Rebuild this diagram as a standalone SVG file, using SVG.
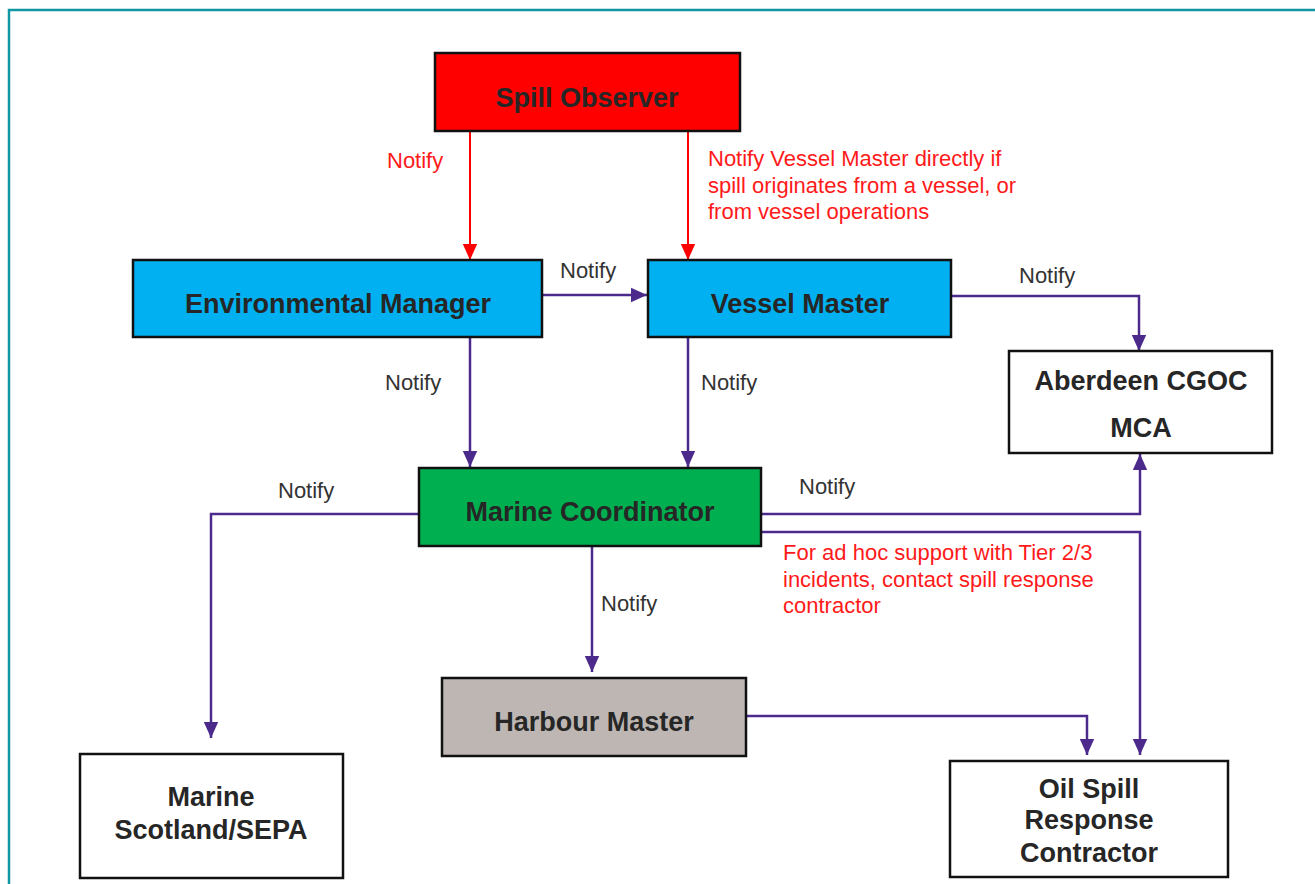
<svg xmlns="http://www.w3.org/2000/svg" width="1315" height="884" viewBox="0 0 1315 884">
<defs>
<marker id="ap" viewBox="0 0 10 10" refX="10" refY="5" markerWidth="16" markerHeight="16" markerUnits="userSpaceOnUse" orient="auto">
<path d="M0,0.5 L10,5 L0,9.5 Z" fill="#4b2a8c"/>
</marker>
<marker id="ar" viewBox="0 0 10 10" refX="10" refY="5" markerWidth="16" markerHeight="16" markerUnits="userSpaceOnUse" orient="auto">
<path d="M0,0.5 L10,5 L0,9.5 Z" fill="#ff0000"/>
</marker>
<style>
.box{stroke:#111;stroke-width:2.5}
.nt{font-family:"Liberation Sans",Arial,sans-serif;font-weight:bold;font-size:27px;fill:#262626;text-anchor:middle}
.lbl{font-family:"Liberation Sans",Arial,sans-serif;font-size:22px;fill:#333}
.red{font-family:"Liberation Sans",Arial,sans-serif;font-size:22px;fill:#ff1a1a}
.cp{fill:none;stroke:#4b2a8c;stroke-width:2.5;marker-end:url(#ap)}
.cr{fill:none;stroke:#ff0000;stroke-width:2;marker-end:url(#ar)}
</style>
</defs>
<rect width="1315" height="884" fill="#fff"/>
<path d="M9,884 V10 H1315" fill="none" stroke="#1196a4" stroke-width="2.5"/>

<g id="connectors">
<path class="cr" d="M470,131 V260"/>
<path class="cr" d="M688,131 V260"/>
<path class="cp" d="M542,295 H647"/>
<path class="cp" d="M951,296 H1139 V351"/>
<path class="cp" d="M470,337 V467"/>
<path class="cp" d="M688,337 V467"/>
<path class="cp" d="M419,514 H211 V738"/>
<path class="cp" d="M761,514 H1140 V454"/>
<path class="cp" d="M761,532 H1140 V755"/>
<path class="cp" d="M592,546 V672"/>
<path class="cp" d="M745,716 H1087 V755"/>
</g>

<g id="labels">
<text class="red" x="387" y="168">Notify</text>
<text class="red" x="708" y="166">Notify Vessel Master directly if</text>
<text class="red" x="708" y="193">spill originates from a vessel, or</text>
<text class="red" x="708" y="219">from vessel operations</text>
<text class="lbl" x="560" y="278">Notify</text>
<text class="lbl" x="1019" y="283">Notify</text>
<text class="lbl" x="385" y="390">Notify</text>
<text class="lbl" x="701" y="390">Notify</text>
<text class="lbl" x="278" y="498">Notify</text>
<text class="lbl" x="799" y="494">Notify</text>
<text class="lbl" x="601" y="611">Notify</text>
<text class="red" x="783" y="560">For ad hoc support with Tier 2/3</text>
<text class="red" x="783" y="587">incidents, contact spill response</text>
<text class="red" x="783" y="613">contractor</text>
</g>

<g id="spill-observer">
<rect class="box" x="435" y="53" width="305" height="78" fill="#ff0000"/>
<text class="nt" x="587" y="107">Spill Observer</text>
</g>
<g id="environmental-manager">
<rect class="box" x="133" y="260" width="409" height="77" fill="#00b0f0"/>
<text class="nt" x="338" y="313">Environmental Manager</text>
</g>
<g id="vessel-master">
<rect class="box" x="648" y="260" width="303" height="77" fill="#00b0f0"/>
<text class="nt" x="800" y="313">Vessel Master</text>
</g>
<g id="aberdeen-cgoc">
<rect class="box" x="1009" y="351" width="263" height="102" fill="#fff"/>
<text class="nt" x="1141" y="390">Aberdeen CGOC</text>
<text class="nt" x="1141" y="437">MCA</text>
</g>
<g id="marine-coordinator">
<rect class="box" x="419" y="468" width="342" height="78" fill="#00b050"/>
<text class="nt" x="590" y="521">Marine Coordinator</text>
</g>
<g id="harbour-master">
<rect class="box" x="442" y="678" width="304" height="78" fill="#bdb6b3"/>
<text class="nt" x="594" y="731">Harbour Master</text>
</g>
<g id="marine-scotland">
<rect class="box" x="80" y="754" width="263" height="124" fill="#fff"/>
<text class="nt" x="211" y="806">Marine</text>
<text class="nt" x="211" y="839">Scotland/SEPA</text>
</g>
<g id="oil-spill-response">
<rect class="box" x="950" y="761" width="278" height="116" fill="#fff"/>
<text class="nt" x="1089" y="798">Oil Spill</text>
<text class="nt" x="1089" y="829">Response</text>
<text class="nt" x="1089" y="862">Contractor</text>
</g>
</svg>
